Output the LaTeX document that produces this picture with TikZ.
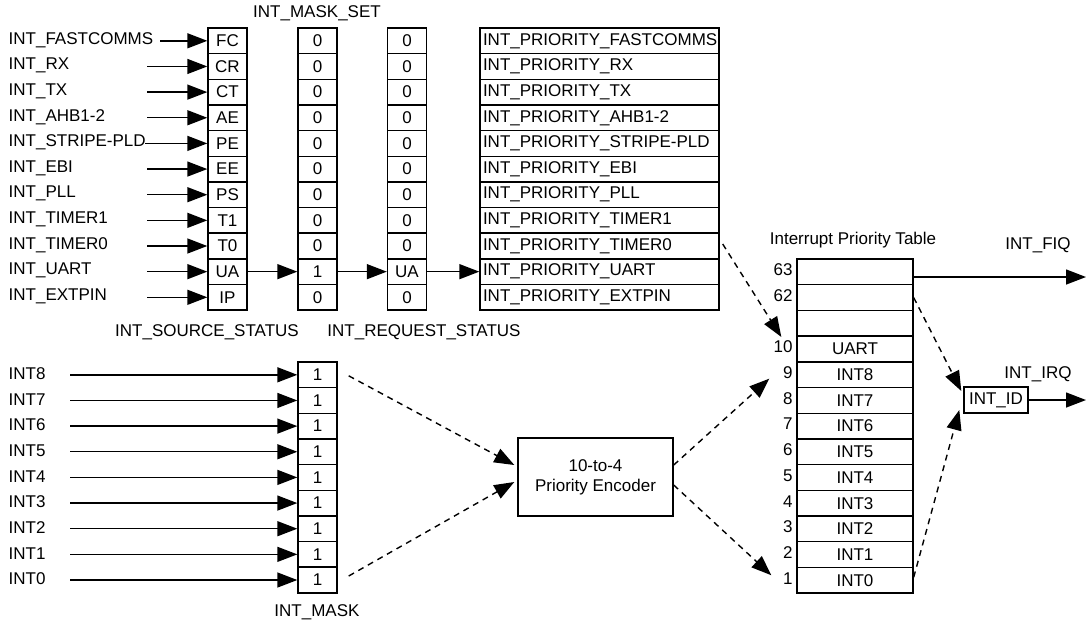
\documentclass[tikz,border=0pt]{standalone}
\usepackage{fontspec}
\setmainfont{Liberation Sans}
\usetikzlibrary{arrows.meta,calc}

\begin{document}
\begin{tikzpicture}[x=0.5pt, y=-0.5pt, line width=0.7pt,
    >={Triangle[length=10pt,width=7.5pt]},
    font=\fontsize{8.5}{10}\selectfont,
    cell/.style={draw, minimum width=19.5pt, minimum height=12.82pt, inner sep=0pt},
    prio/.style={draw, text width=116.5pt, inner xsep=1.5pt, inner ysep=0pt, minimum height=12.82pt, align=left},
    tab/.style={draw, minimum width=58pt, minimum height=12.85pt, inner sep=0pt},
    weak/.style={dash pattern=on 3pt off 2.5pt}]
    \useasboundingbox (0,0) rectangle (1087,623);

    % interrupt sources, masks and priorities
    \foreach \code/\name/\tail/\setv/\reqv [count=\i from 0] in {FC/FASTCOMMS/160/0/0, CR/RX/147/0/0, CT/TX/147/0/0, AE/AHB1-2/147/0/0, PE/STRIPE-PLD/145/0/0, EE/EBI/147/0/0, PS/PLL/147/0/0, T1/TIMER1/147/0/0, T0/TIMER0/147/0/0, UA/UART/147/1/UA, IP/EXTPIN/147/0/0} {
        \pgfmathsetmacro\y{40.8+25.65*\i}
        \node[cell] (src\i) at (227.5,\y) {\code};
        \node[cell] (set\i) at (317.5,\y) {\setv};
        \node[cell] (req\i) at (407,\y) {\reqv};
        \node[prio] (pri\i) at (599.5,\y) {INT\_PRIORITY\_\name};
        \node[anchor=west, inner sep=0pt] (in\i) at (8,\y-1) {INT\_\name};
        \coordinate (tail\i) at (\tail,\y);
        \draw[->] (tail\i) -- (src\i);
    }

    \draw[->] (src9) -- (set9);
    \draw[->] (set9) -- (req9);
    \draw[->] (req9) -- (pri9);

    \node (lblset) at (317,13) {INT\_MASK\_SET};
    \node (lblsrc) at (207,332) {INT\_SOURCE\_STATUS};
    \node (lblreq) at (424,332) {INT\_REQUEST\_STATUS};

    % INT8..INT0 and their mask
    \foreach \n [count=\j from 0] in {8,7,...,0} {
        \pgfmathsetmacro\y{374.8+25.65*\j}
        \node[cell] (msk\j) at (317.5,\y) {1};
        \node[anchor=west, inner sep=0pt] (int\j) at (8,\y-1) {INT\n};
        \coordinate (lead\j) at (70,\y);
        \draw[->] (lead\j) -- (msk\j);
    }
    \node (lblmsk) at (317,612) {INT\_MASK};

    \node[draw, minimum width=77.5pt, minimum height=39pt, align=center] (enc) at (595.5,477) {10-to-4\\Priority Encoder};

    % priority table
    \foreach \num/\txt [count=\k from 0] in {63/{}, 62/{}, {}/{}, 10/UART, 9/INT8, 8/INT7, 7/INT6, 6/INT5, 5/INT4, 4/INT3, 3/INT2, 2/INT1, 1/INT0} {
        \pgfmathsetmacro\y{271.85+25.7*\k}
        \node[tab] (tab\k) at (855,\y) {\txt};
        \node[anchor=east, inner xsep=1.5pt, inner ysep=0pt] (num\k) at ([yshift=1pt]tab\k.west) {\num};
    }
    \node (lbltab) at (853,240) {Interrupt Priority Table};

    \node[draw, minimum width=32pt, minimum height=13pt, inner sep=1pt] (id) at (996,400) {INT\_ID};
    \node (lblfiq) at (1038,245) {INT\_FIQ};
    \node (lblirq) at (1038,374) {INT\_IRQ};

    \coordinate (fiq) at (1086,277);
    \coordinate (irq) at (1086,400);
    \draw[->] (tab0.east |- fiq) -- (fiq);
    \draw[->] (id) -- (irq);

    \draw[->, weak] ($(msk0.east)+(11,1)$) -- ($(enc.west)+(-3,-12)$);
    \draw[->, weak] ($(msk8.east)+(11,-4)$) -- ($(enc.west)+(-3,5)$);
    \draw[->, weak] ($(enc.east)+(0,-12)$) -- ($(tab4.west)+(-27,4)$);
    \draw[->, weak] ($(enc.east)+(0,8)$) -- ($(tab12.west)+(-25,-5)$);
    \draw[->, weak] ($(pri8.east)+(3,-2)$) -- ($(tab3.west)+(-15,-12)$);
    \draw[->, weak] (tab1.east) -- ($(id.west)+(-2,-9)$);
    \draw[->, weak] ($(tab12.east)+(0,-3)$) -- ($(id.west)+(-4,10)$);
\end{tikzpicture}
\end{document}
